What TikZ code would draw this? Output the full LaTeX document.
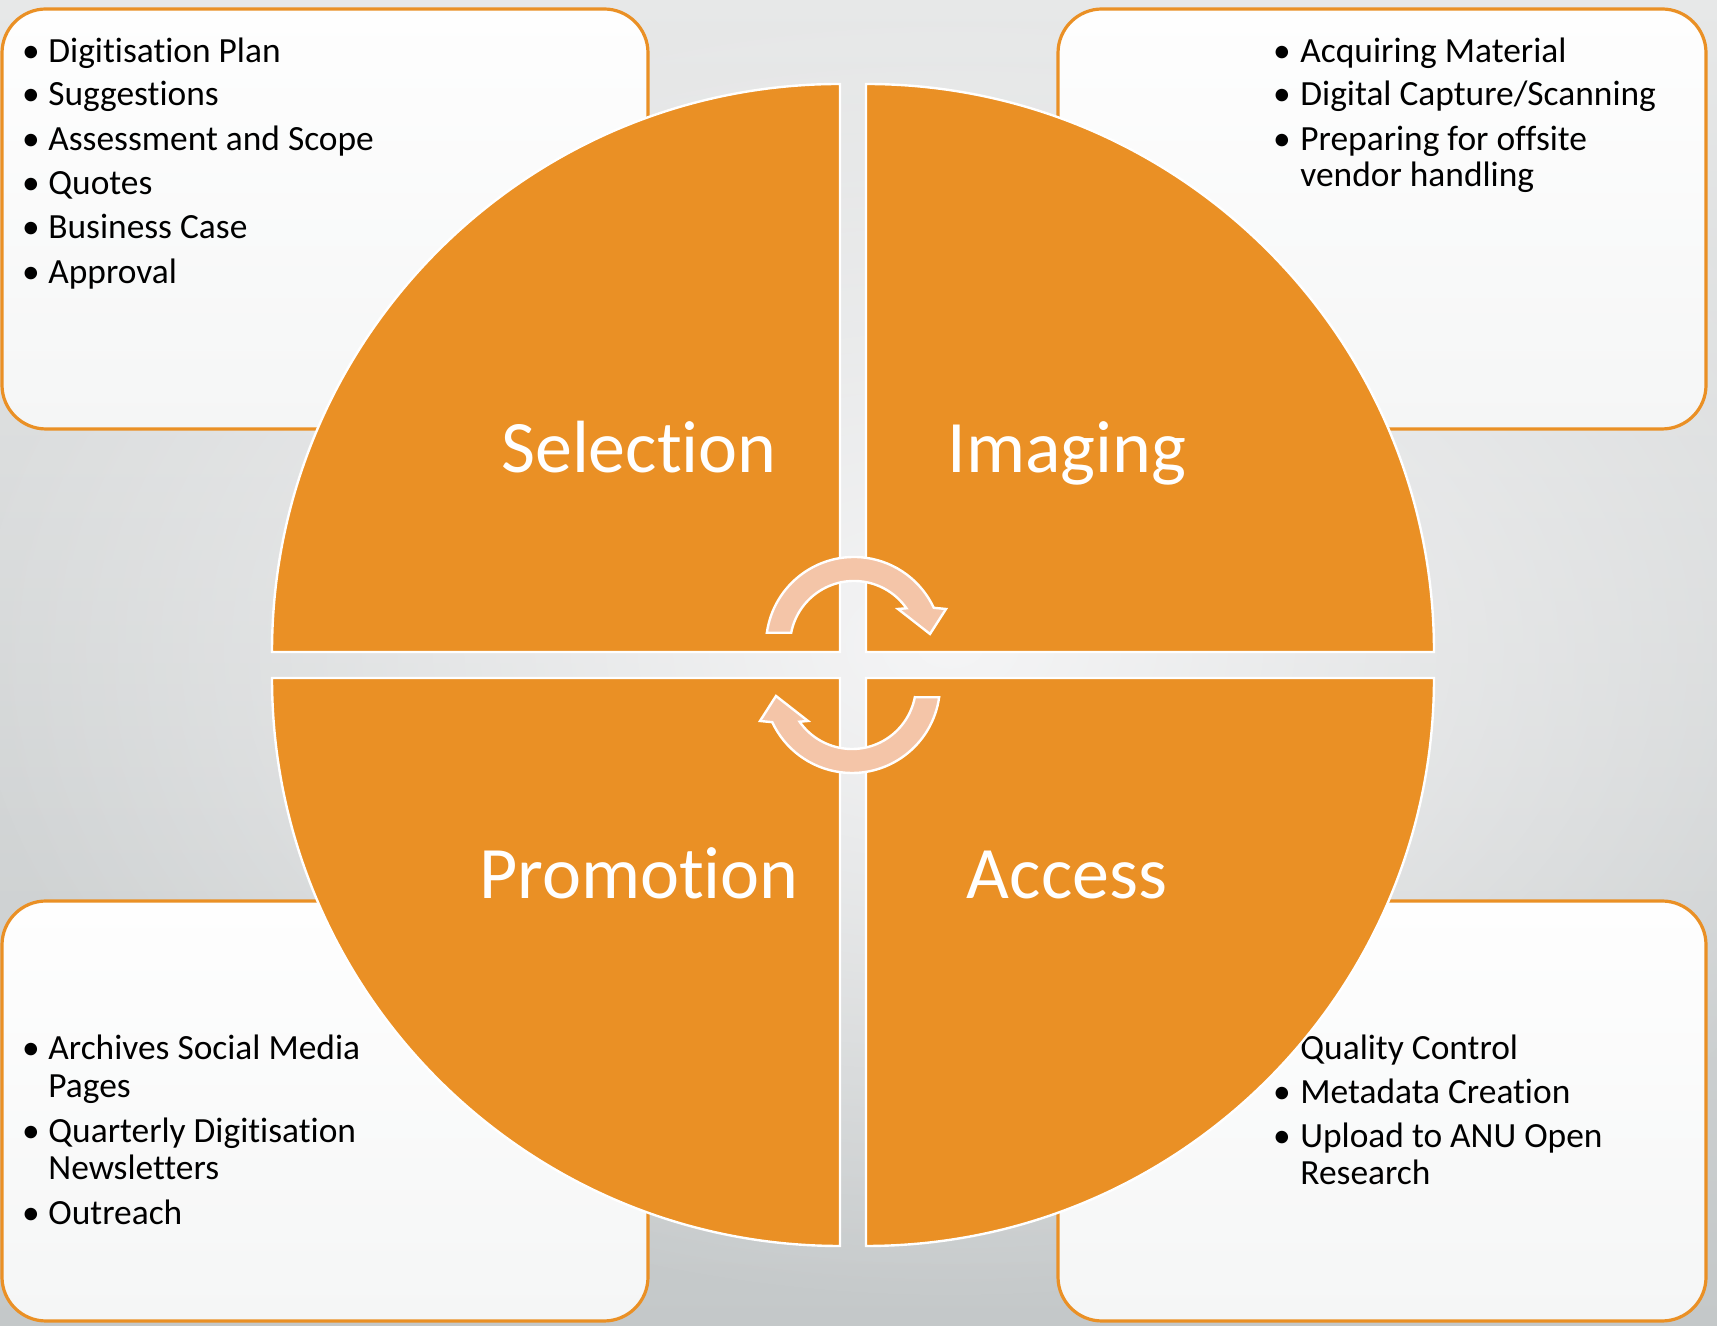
\documentclass[tikz,border=0pt]{standalone}
\usepackage{fontspec}
\setmainfont{Carlito}[Ligatures=NoCommon]
\usetikzlibrary{calc,fadings}
\tikzfading[name=myglow, inner color=transparent!0, outer color=transparent!100]
\definecolor{orng}{HTML}{EA9025}
\definecolor{peach}{HTML}{F4C5A8}
\definecolor{bgtop}{HTML}{E7E8E8}
\definecolor{bgmid}{HTML}{E3E4E5}
\definecolor{bgbot}{HTML}{C4C8C9}
\definecolor{bglight}{HTML}{F5F5F6}
\definecolor{boxtop}{HTML}{FEFEFE}
\definecolor{boxbot}{HTML}{F5F6F6}
\begin{document}
\begin{tikzpicture}[x=0.5pt,y=0.5pt,
  infobox/.style={draw=orng, line width=1.6pt, rounded corners=22pt, top color=boxtop, bottom color=boxbot},
  quad/.style={fill=orng, draw=white, line width=1.2pt},
  itm/.style={anchor=base west, inner sep=0pt, font=\fontsize{17.7pt}{20pt}\selectfont, text=black},
  bul/.style={anchor=base, inner sep=0pt, font=\fontsize{17.7pt}{20pt}\selectfont, text=black},
  lab/.style={anchor=base, inner sep=0pt, text=white, font=\fontsize{37pt}{40pt}\selectfont},
  cyc/.style={fill=peach, draw=white, line width=1.2pt, line join=miter}]
\useasboundingbox (0,0) rectangle (1717,1326);
\begin{scope}
\clip (0,0) rectangle (1717,1326);
\shade[top color=bgtop, middle color=bgmid, bottom color=bgbot] (0,0) rectangle (1717,1326);
\fill[bglight, path fading=myglow] (950,680) ellipse [x radius=500pt, y radius=330pt];
\end{scope}

% boxes
\draw[infobox] (2,897) rectangle (648,1317);
\draw[infobox] (1058,897) rectangle (1706,1317);
\draw[infobox] (2,5) rectangle (648,425);
\draw[infobox] (1058,5) rectangle (1706,425);

% top-left list
\node[bul] (tlb1) at (31,1263) {•}; \node[itm] (tl1) at (48,1263) {Digitisation Plan};
\node[bul] (tlb2) at (31,1220) {•}; \node[itm] (tl2) at (48,1220) {Suggestions};
\node[bul] (tlb3) at (31,1175) {•}; \node[itm] (tl3) at (48,1175) {Assessment and Scope};
\node[bul] (tlb4) at (31,1131) {•}; \node[itm] (tl4) at (48,1131) {Quotes};
\node[bul] (tlb5) at (31,1087) {•}; \node[itm] (tl5) at (48,1087) {Business Case};
\node[bul] (tlb6) at (31,1042) {•}; \node[itm] (tl6) at (48,1042) {Approval};

% top-right list
\node[bul] (trb1) at (1282,1263) {•}; \node[itm] (tr1) at (1300,1263) {Acquiring Material};
\node[bul] (trb2) at (1282,1220) {•}; \node[itm] (tr2) at (1300,1220) {Digital Capture/Scanning};
\node[bul] (trb3) at (1282,1175) {•}; \node[itm] (tr3) at (1300,1175) {Preparing for offsite};
\node[itm] (tr3b) at (1300,1139) {vendor handling};

% bottom-left list
\node[bul] (blb1) at (31,266) {•}; \node[itm] (bl1) at (48,266) {Archives Social Media};
\node[itm] (bl1b) at (48,228) {Pages};
\node[bul] (blb2) at (31,183) {•}; \node[itm] (bl2) at (48,183) {Quarterly Digitisation};
\node[itm] (bl2b) at (48,146) {Newsletters};
\node[bul] (blb3) at (31,101) {•}; \node[itm] (bl3) at (48,101) {Outreach};

% bottom-right list
\node[bul] (brb1) at (1282,266) {•}; \node[itm] (br1) at (1300,266) {Quality Control};
\node[bul] (brb2) at (1282,222) {•}; \node[itm] (br2) at (1300,222) {Metadata Creation};
\node[bul] (brb3) at (1282,178) {•}; \node[itm] (br3) at (1300,178) {Upload to ANU Open};
\node[itm] (br3b) at (1300,141) {Research};

% quadrants
\draw[quad] (840,674) -- ++(-568,0) arc[start angle=180, end angle=90, radius=284pt] -- cycle;
\draw[quad] (866,674) -- ++(0,568) arc[start angle=90, end angle=0, radius=284pt] -- cycle;
\draw[quad] (840,648) -- ++(0,-568) arc[start angle=270, end angle=180, radius=284pt] -- cycle;
\draw[quad] (866,648) -- ++(568,0) arc[start angle=0, end angle=-90, radius=284pt] -- cycle;

% labels
\node[lab] (sel) at (639,853) {Selection};
\node[lab] (img) at (1067,853) {Imaging};
\node[lab] (pro) at (639,427) {Promotion};
\node[lab] (acc) at (1067,427) {Access};

% cycle arrows
\coordinate (ca) at (854,681);
\coordinate (cb) at (852,641);
\draw[cyc] ($(ca)+(172:88)$) arc[start angle=172, end angle=25, radius=44pt]
  -- (946,717) -- (930,692) -- (898,717) -- ($(ca)+(35:64)$)
  arc[start angle=35, end angle=169, radius=32pt] -- cycle;
\draw[cyc] ($(cb)+(-8:88)$) arc[start angle=-8, end angle=-155, radius=44pt]
  -- (760,605) -- (776,630) -- (808,605) -- ($(cb)+(-145:64)$)
  arc[start angle=-145, end angle=-11, radius=32pt] -- cycle;
\end{tikzpicture}
\end{document}
